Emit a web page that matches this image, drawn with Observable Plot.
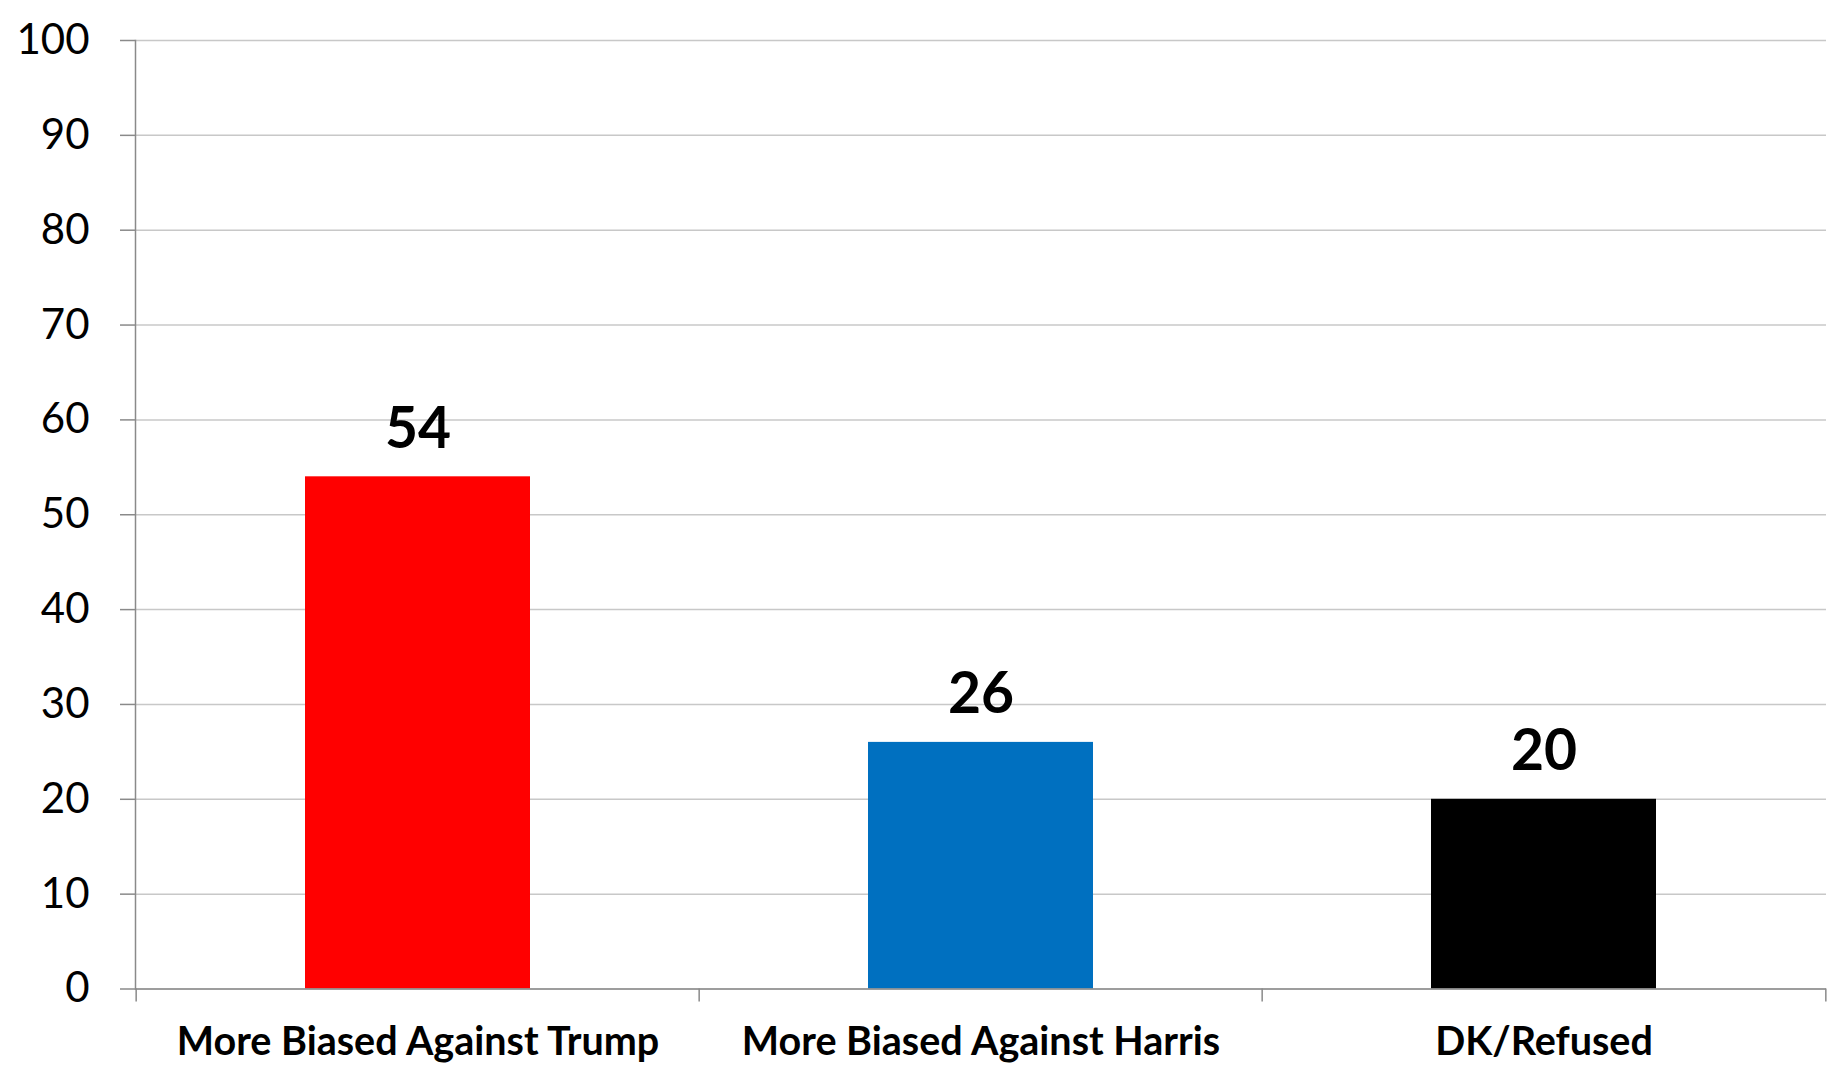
<!DOCTYPE html>
<html>
<head>
<meta charset="utf-8">
<script src="https://cdn.jsdelivr.net/npm/d3@7"></script>
<script src="https://cdn.jsdelivr.net/npm/@observablehq/plot@0.6"></script>
<style>
  html, body { margin: 0; padding: 0; background: #fff; }
  #chart svg { display: block; }
</style>
</head>
<body>
<div id="chart"></div>
<script>
const categories = ["More Biased Against Trump", "More Biased Against Harris", "DK/Refused"];
const values = [54, 26, 20];
const colors = ["#FF0000", "#0070C0", "#000000"];
const yTicks = [0, 10, 20, 30, 40, 50, 60, 70, 80, 90, 100];

const data = categories.map((c, i) => ({category: c, value: values[i], color: colors[i]}));

const W = 1830, H = 1073;
const mL = 135, mR = 4, mT = 40, mB = 84.5;
const step = (W - mL - mR) / categories.length;
const axisColor = "#8a8a8a";
const gridColor = "#c8c8c8";

const chart = Plot.plot({
  width: W,
  height: H,
  marginLeft: mL,
  marginRight: mR,
  marginTop: mT,
  marginBottom: mB,
  style: {fontFamily: "Lato, 'Open Sans', sans-serif", background: "#fff", color: "#000"},
  x: {type: "band", domain: categories, paddingInner: 0.6, paddingOuter: 0.3, label: null},
  y: {domain: [0, 100], label: null},
  marks: [
    Plot.gridY(yTicks, {stroke: gridColor, strokeOpacity: 1, strokeWidth: 1.5}),
    Plot.axisY(yTicks, {tickSize: 15, tickPadding: 31, fontSize: 42, stroke: axisColor, strokeWidth: 1.5, fill: "#000", label: null}),
    Plot.frame({anchor: "left", stroke: axisColor, strokeWidth: 1.5}),
    Plot.barY(data, {x: "category", y: "value", fill: "color"}),
    Plot.ruleY([0], {stroke: axisColor, strokeWidth: 1.5}),
    Plot.axisX(categories, {tickSize: 13, dx: -step / 2, tickFormat: () => "", stroke: axisColor, strokeWidth: 1.5, label: null}),
    Plot.axisX([categories[categories.length - 1]], {tickSize: 13, dx: step / 2, tickFormat: () => "", stroke: axisColor, strokeWidth: 1.5, label: null}),
    Plot.axisX(categories, {tickSize: 0, tickPadding: 37.8, fontSize: 39.5, fontWeight: "bold", fill: "#000", label: null}),
    Plot.text(data, {x: "category", y: "value", text: d => String(d.value), dy: -29, lineAnchor: "bottom", fontSize: 57, fontWeight: "bold", fill: "#000"})
  ]
});

document.getElementById("chart").appendChild(chart);
</script>
</body>
</html>
